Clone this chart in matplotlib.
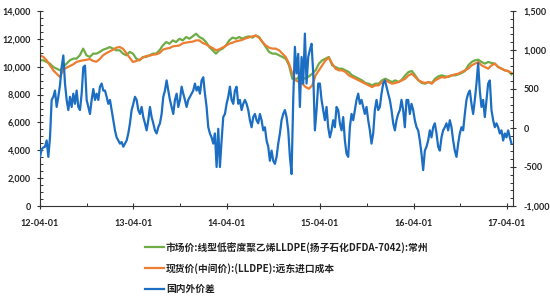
import matplotlib
matplotlib.use("Agg")
import matplotlib.pyplot as plt
import matplotlib.dates as mdates
from matplotlib.ticker import MultipleLocator, FuncFormatter
import pandas as pd

plt.rcParams['font.family'] = ['Noto Sans CJK SC', 'DejaVu Sans']

start_date = "2012-04-01"
end_date = "2017-04-19"

# 市场价 (left axis, yuan/t), roughly every two weeks
market_price = [
    10460, 10460, 10340, 10220, 9980, 9860, 9740, 9980, 10220, 10460,
    10580, 10580, 10820, 11300, 10820, 10700, 10940, 10940, 11060, 11220,
    11300, 11410, 11300, 11180, 11180, 10940, 10820, 11060, 10940, 10580,
    10460, 10700, 10700, 10820, 10940, 10940, 11180, 11530, 11770, 11650,
    11890, 11770, 12010, 11890, 12130, 12010, 12180, 12370, 12130, 12010,
    11770, 11410, 11180, 10940, 11180, 11300, 11530, 11890, 12090, 12010,
    12130, 12010, 12130, 12180, 12090, 12250, 12130, 11770, 11410, 11060,
    10940,
    10940, 10820, 10700, 10580, 10100, 9140, 9070, 9260, 9210, 9140,
    9310, 9500, 9740, 10220, 10460, 10580, 10700, 10100, 9980, 9860,
    9860, 9740, 9620, 9380, 9260, 9140, 9020, 8830, 8780, 8660,
    8780, 8780, 9020, 9140, 9020, 8900, 9020, 8900, 9070, 9380,
    9620, 9690, 9380, 9020, 8830, 8780, 8900, 8830, 9140, 9310,
    9380, 9310, 9260, 9380, 9380, 9450, 9550, 9690, 10100, 10340,
    10460, 10500, 10340, 10220, 10340, 10270, 10220, 9980, 9860, 9740,
    9690, 9450,
]

# 现货价 (left axis, yuan/t)
spot_price = [
    10820, 10700, 10460, 10100, 9740, 9500, 9260, 9790, 9930, 10050,
    10170, 10340, 10410, 10460, 10500, 10550, 10410, 10360, 10550, 10820,
    10980, 11100, 11220, 11370, 11410, 11290, 10980, 10650, 10340, 10410,
    10500, 10650, 10770, 10790, 10860, 10890, 10980, 11220, 11300, 11340,
    11460, 11490, 11530, 11680, 11730, 11770, 11800, 11890, 11890, 11700,
    11610, 11460, 11340, 11180, 11250, 11370, 11510, 11650, 11730, 11820,
    11870, 11940, 12040, 12110, 12180, 12230, 12080, 11770, 11530, 11370,
    11300,
    11300, 11180, 10940, 10700, 10220, 9500, 9020, 8900, 8780, 8540,
    8420, 8660, 9380, 9740, 10100, 10460, 10650, 10220, 9860, 9740,
    9740, 9620, 9380, 9260, 9140, 9020, 8900, 8780, 8660, 8540,
    8660, 8660, 8900, 9020, 8900, 8780, 8830, 8900, 9020, 9140,
    9380, 9500, 9260, 9020, 8900, 8830, 8900, 8780, 9020, 9140,
    9260, 9210, 9310, 9380, 9450, 9500, 9620, 9740, 9860, 10100,
    10220, 10340, 10100, 9980, 9860, 10100, 10220, 9980, 9860, 9740,
    9690, 9550,
]

# 国内外价差 (right axis), roughly weekly
spread = [
    -370, -270, -250, -240, -160, -370, -120, 360, 400, 480,
    270, 400, 550, 780, 930, 570, 360, 230, 400, 270,
    440, 310, 480, 270, 230, 440, 780, 800, 360, 270,
    180, 360, 500, 360, 440, 360, 530, 570, 480, 480,
    400, 310, 360, 230, 100, -30, -120, -160, -200, -180,
    -240, -200, -160, -70, 60, 230, 310, 400, 360, 230,
    180, 270, 140, 60, -30, 100, 270, 140, 60, -30,
    -70, 10, 60, 180, 400, 480, 610, 480, 360, 270,
    180, 360, 440, 270, 360, 530, 440, 360, 270, 360,
    400, 440, 480, 570, 480, 530, 440, 610, 650, 440,
    270, 10, -70, -120, -200, -70, -500, -10, -500, -160,
    140, 180, 310, 400, 530, 360, 310, 480, 530, 310,
    360, 230, 310, 360, 310, 230, 100, 10, 140, 180,
    100, 60, 180, 100, -30, 10, -160, -240, -420, -290,
    -420,
    -460, -370, -200, -70, 100, 180, 230, 140, -30, -370,
    -590, 360, 1040, 700, 950, 270, 910, 570, 1210, 570,
    910, 1000, 1080, 700, -30, 230, 570, 570, 360, 230,
    100, 270, 10, -120, -30, 100, 10, 270, 230, 60,
    -30, 140, -160, -330, -370, 10, 180, 100, 230, 360,
    440, 310, 360, 270, 180, 270, 100, -30, -200, -70,
    230, 360, 230, 270, 440, 570, 610, 530, 440, 360,
    230, 60, -30, 100, 180, 230, 360, 230, 10, 360,
    360, 180, 310, 230, 100, 10, -30, -160, -330, -540,
    -290, -240, -160, -30, -120, 10, 60, -70, -240, -290,
    -120, -30, 10, 60, -30, 100, 10, -160, -290, -370,
    -200, -70, 10, -30, 180, 360, 440, 480, 310, 180,
    360, 570, 830, 480, 270, 360, 140, 360, 570, 610,
    230, 100, 10, 60, 10, -70, -30, -160, -70, -120,
    -30, -120, -200,
]

labels = [
    "市场价:线型低密度聚乙烯LLDPE(扬子石化DFDA-7042):常州",
    "现货价(中间价):(LLDPE):远东进口成本",
    "国内外价差",
]
colors = ["#6FAC46", "#ED7D31", "#1B6EC2"]

price_dates = pd.date_range(start_date, end_date, periods=len(market_price))
spread_dates = pd.date_range(start_date, end_date, periods=len(spread))

fig = plt.figure(figsize=(5.5, 3.0), dpi=100)
ax = fig.add_axes([40 / 550, 1 - 206 / 300, 473 / 550, 195 / 300])
ax2 = ax.twinx()

l1, = ax.plot(price_dates, market_price, color=colors[0], lw=1.6)
l2, = ax.plot(price_dates, spot_price, color=colors[1], lw=1.6)
l3, = ax2.plot(spread_dates, spread, color=colors[2], lw=1.6)

ax.set_xlim(pd.Timestamp("2012-04-01"), pd.Timestamp("2017-04-25"))
ax.set_ylim(0, 14000)
ax2.set_ylim(-1000, 1500)

ax.xaxis.set_major_locator(mdates.MonthLocator(bymonth=[4]))
ax.xaxis.set_minor_locator(mdates.MonthLocator(bymonth=[10]))
ax.xaxis.set_major_formatter(mdates.DateFormatter("%y-%m-%d"))
ax.yaxis.set_major_locator(MultipleLocator(2000))
ax.yaxis.set_minor_locator(MultipleLocator(500))
ax2.yaxis.set_major_locator(MultipleLocator(500))
ax2.yaxis.set_minor_locator(MultipleLocator(100))
comma = FuncFormatter(lambda v, p: f"{v:,.0f}")
ax.yaxis.set_major_formatter(comma)
ax2.yaxis.set_major_formatter(comma)

spine_col = "#333333"
for a in (ax, ax2):
    for s in a.spines.values():
        s.set_color(spine_col)
        s.set_linewidth(0.8)
    a.spines["top"].set_visible(False)
ax.spines["right"].set_visible(False)
ax2.spines["left"].set_visible(False)
ax2.spines["bottom"].set_visible(False)

ax.tick_params(which="major", direction="inout", length=5, width=0.8, color=spine_col)
ax.tick_params(which="minor", direction="in", length=2.5, width=0.7, color=spine_col)
ax2.tick_params(which="major", direction="inout", length=5, width=0.8, color=spine_col)
ax2.tick_params(which="minor", direction="in", length=2.5, width=0.7, color=spine_col)
ax.tick_params(axis="y", pad=4)
ax.tick_params(axis="x", pad=7)
ax2.tick_params(axis="y", pad=5)

for lab in ax.get_xticklabels() + ax.get_yticklabels() + ax2.get_yticklabels():
    lab.set_family(["Lato", "DejaVu Sans"])
    lab.set_fontweight("bold")
    lab.set_fontsize(6.5)
    lab.set_color("#222222")

fig.legend([l1, l2, l3], labels, loc="upper left",
           bbox_to_anchor=(145 / 550, 1 - 242 / 300), frameon=False,
           prop={"family": ["Noto Sans CJK SC", "DejaVu Sans"], "weight": "bold", "size": 7},
           handlelength=2.0, handletextpad=0.15, labelspacing=1.05,
           borderpad=0, borderaxespad=0, labelcolor="#222222")

fig.savefig("out.png", dpi=100)
